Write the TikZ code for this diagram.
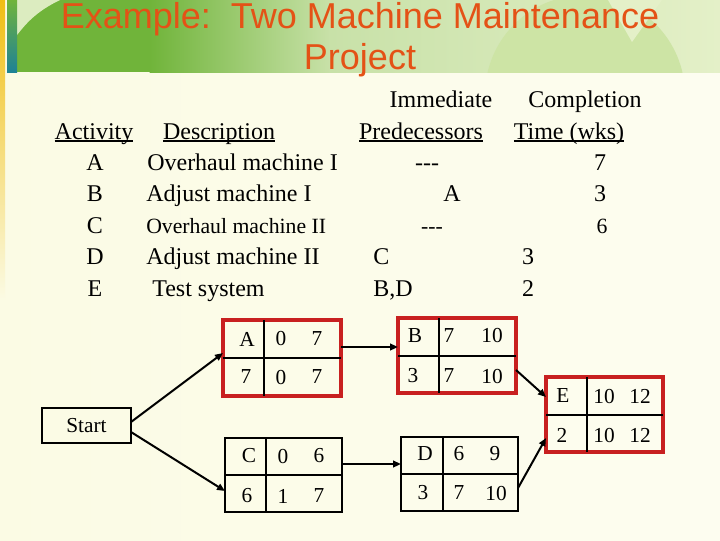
\documentclass[tikz,border=0pt]{standalone}
\usepackage{fontspec}
\setmainfont{Liberation Serif}
\newfontfamily\titlefont{Liberation Sans}
\usetikzlibrary{arrows.meta,calc}
\definecolor{cream}{RGB}{251,251,228}
\definecolor{creamlight}{RGB}{253,253,240}
\definecolor{titleorange}{RGB}{228,82,22}
\definecolor{critred}{RGB}{200,32,32}
\definecolor{darkgreen}{RGB}{112,180,58}
\definecolor{midgreen}{RGB}{200,225,168}
\definecolor{lightgreen}{RGB}{228,240,200}
\definecolor{leafgreen}{RGB}{205,228,165}
\definecolor{stripeyellow}{RGB}{240,190,20}
\definecolor{teal}{RGB}{30,130,150}
\newcommand\myul[1]{\setbox0\hbox{#1}\rlap{\rule[-0.12em]{\wd0}{0.06em}}\box0}
\begin{document}
\begin{tikzpicture}[x=0.75pt,y=-0.75pt,
  tbl/.style={font=\fontsize{18}{18}\selectfont, inner sep=0pt, anchor=base},
  tbls/.style={font=\fontsize{16.3}{16.3}\selectfont, inner sep=0pt, anchor=base},
  cell/.style={font=\fontsize{16}{16}\selectfont, inner sep=0pt, anchor=center},
  box/.style={draw=black, line width=1.5pt, inner sep=0pt, outer sep=0pt},
  crit/.style={box, draw=critred, line width=2.4pt},
  divider/.style={draw=black, line width=1.5pt},
  arr/.style={line width=1.5pt, -{Triangle[length=6pt,width=5pt]}},
  ttl/.style={font=\titlefont\fontsize{27}{27}\selectfont, text=titleorange, inner sep=0pt, anchor=base}]
\useasboundingbox (0,0) rectangle (720,540);
% background
\shade[left color=cream, right color=creamlight] (0,0) rectangle (720,540);
\shade[top color=stripeyellow, bottom color=cream] (0,0) rectangle (5,300);
% title band
\fill[darkgreen] (17,0) rectangle (150,72);
\shade[left color=darkgreen, right color=midgreen] (149.5,0) rectangle (330,72);
\shade[left color=midgreen, right color=lightgreen] (329.5,0) rectangle (720,72);
\begin{scope}
  \clip (17,0) rectangle (720,72);
  \fill[leafgreen] (585,95) circle[radius=100];
  \fill[lightgreen] (608,0) -- (632,42) -- (662,0) -- cycle;
  \fill[leafgreen!70!white] (17,0) -- (60,0) .. controls (35,12) and (25,25) .. (17,35) -- cycle;
\end{scope}
\shade[top color=darkgreen, bottom color=teal] (7,0) rectangle (17,72);
% title
\node[ttl] (title1) at (360,28.5) {Example:\ \ Two Machine Maintenance};
\node[ttl] (title2) at (360,69.5) {Project};
% table headers
\node[tbl] (h1) at (441,107) {Immediate};
\node[tbl] (h2) at (585,107) {Completion};
\node[tbl] (h3) at (94,139) {\myul{Activity}};
\node[tbl] (h4) at (219,139) {\myul{Description}};
\node[tbl] (h5) at (421,139) {\myul{Predecessors}};
\node[tbl] (h6) at (569,139) {\myul{Time (wks)}};
% rows
\node[tbl] (ra1) at (95,170) {A};
\node[tbl,anchor=base west] (ra2) at (147,170) {Overhaul machine I};
\node[tbl] (ra3) at (427,170) {-{}-{}-};
\node[tbl] (ra4) at (600,170) {7};
\node[tbl] (rb1) at (95,201) {B};
\node[tbl,anchor=base west] (rb2) at (146,201) {Adjust machine I};
\node[tbl] (rb3) at (452,201) {A};
\node[tbl] (rb4) at (600,201) {3};
\node[tbl] (rc1) at (95,233) {C};
\node[tbls,anchor=base west] (rc2) at (146,233) {Overhaul machine II};
\node[tbls] (rc3) at (432,233) {-{}-{}-};
\node[tbls] (rc4) at (602,233) {6};
\node[tbl] (rd1) at (95,264) {D};
\node[tbl,anchor=base west] (rd2) at (146,264) {Adjust machine II};
\node[tbl,anchor=base west] (rd3) at (373,264) {C};
\node[tbl] (rd4) at (528,264) {3};
\node[tbl] (re1) at (95,296) {E};
\node[tbl,anchor=base west] (re2) at (152,296) {Test system};
\node[tbl,anchor=base west] (re3) at (373,296) {B,D};
\node[tbl] (re4) at (528,296) {2};
% network boxes
\node[box, minimum width=66.75pt, minimum height=26.25pt, font=\fontsize{16}{16}\selectfont] (Start) at (86.5,425.5) {Start};
\node[crit, minimum width=88.5pt, minimum height=57pt] (A) at (282,358) {};
\node[crit, minimum width=88.5pt, minimum height=56.25pt] (B) at (457,355.5) {};
\node[box, minimum width=87.75pt, minimum height=55.5pt] (C) at (283.5,475) {};
\node[box, minimum width=87.75pt, minimum height=55.5pt] (D) at (459.5,474) {};
\node[crit, minimum width=87.75pt, minimum height=56.25pt] (E) at (604.5,414.5) {};
% dividers
\foreach \b/\s in {A/-13.5pt,B/-13.5pt,C/-13.1pt,D/-12.4pt,E/-13.1pt}{
  \draw[divider] ([xshift=\s]\b.north) -- ([xshift=\s]\b.south);
  \draw[divider] (\b.west) -- (\b.east);
}
% cell texts
\node[cell] (a1) at (247,339) {A};
\node[cell] (a2) at (281,339) {0};
\node[cell] (a3) at (317,339) {7};
\node[cell] (a4) at (246,377) {7};
\node[cell] (a5) at (281,377) {0};
\node[cell] (a6) at (317,377) {7};
\node[cell] (b1) at (415,336) {B};
\node[cell] (b2) at (449,336) {7};
\node[cell] (b3) at (492,336) {10};
\node[cell] (b4) at (413,376) {3};
\node[cell] (b5) at (449,376) {7};
\node[cell] (b6) at (492,376) {10};
\node[cell] (c1) at (249,456) {C};
\node[cell] (c2) at (283,456) {0};
\node[cell] (c3) at (319,456) {6};
\node[cell] (c4) at (247,496) {6};
\node[cell] (c5) at (283,496) {1};
\node[cell] (c6) at (319,496) {7};
\node[cell] (d1) at (425,454) {D};
\node[cell] (d2) at (459,454) {6};
\node[cell] (d3) at (495,454) {9};
\node[cell] (d4) at (423,493) {3};
\node[cell] (d5) at (459,493) {7};
\node[cell] (d6) at (496,493) {10};
\node[cell] (e1) at (563,396) {E};
\node[cell] (e2) at (604,396) {10};
\node[cell] (e3) at (640,396) {12};
\node[cell] (e4) at (562,435) {2};
\node[cell] (e5) at (604,435) {10};
\node[cell] (e6) at (640,435) {12};
% connectors
\draw[arr] ($(Start.east)+(0,-3.5)$) -- ($(A.west)+(0,-5)$);
\draw[arr] ($(Start.east)+(0,6.5)$) -- ($(C.west)+(0,16)$);
\draw[arr] ($(A.east)+(0,-11)$) -- ($(B.west)+(0,-8.5)$);
\draw[arr] ($(C.east)+(0,-11)$) -- ($(D.west)+(0,-10)$);
\draw[arr] ($(B.east)+(0,14.5)$) -- ($(E.west)+(0,-17.5)$);
\draw[arr] ($(D.east)+(0,14)$) -- ($(E.west)+(0,23.5)$);
\end{tikzpicture}
\end{document}
